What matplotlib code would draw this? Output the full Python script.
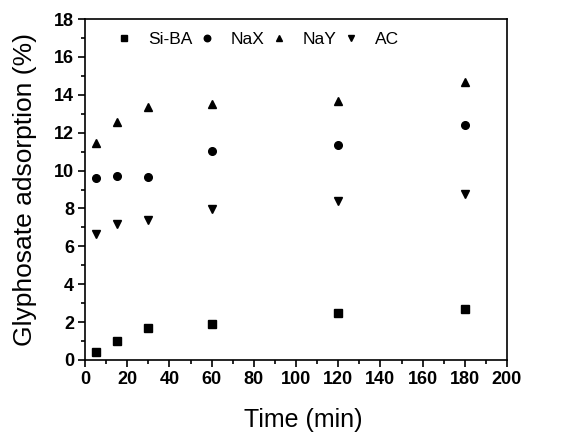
import matplotlib.pyplot as plt
from matplotlib.ticker import MultipleLocator

# ============================================
# Data
# ============================================
time_min = [5, 15, 30, 60, 120, 180]
si_ba = [0.42, 1.02, 1.67, 1.92, 2.50, 2.69]
nax = [9.59, 9.73, 9.68, 11.04, 11.35, 12.41]
nay = [11.44, 12.55, 13.34, 13.53, 13.69, 14.66]
ac = [6.63, 7.20, 7.39, 7.97, 8.40, 8.75]

series_names = ['Si-BA', 'NaX', 'NaY', 'AC']
series_markers = ['s', 'o', '^', 'v']

plt.rcParams['font.family'] = ['Liberation Sans', 'DejaVu Sans']

fig = plt.figure(figsize=(5.71, 4.32), dpi=100)
ax = fig.add_axes([85 / 571, 72 / 432, 422 / 571, 341 / 432])

for name, values, marker in zip(series_names, [si_ba, nax, nay, ac], series_markers):
    ax.plot(time_min, values, linestyle='none', marker=marker, color='black',
            markersize=5.5, label=name)

ax.set_xlim(0, 200)
ax.set_ylim(0, 18)
ax.xaxis.set_major_locator(MultipleLocator(20))
ax.xaxis.set_minor_locator(MultipleLocator(10))
ax.yaxis.set_major_locator(MultipleLocator(2))
ax.yaxis.set_minor_locator(MultipleLocator(1))
ax.tick_params(which='both', direction='out', top=False, right=False, width=1.2)
ax.tick_params(which='major', length=5, labelsize=13, pad=3)
ax.tick_params(which='minor', length=3)
for lbl in ax.get_xticklabels() + ax.get_yticklabels():
    lbl.set_fontweight('bold')
for spine in ax.spines.values():
    spine.set_linewidth(1.2)

ax.set_xlabel('Time (min)', fontsize=18, labelpad=14)
ax.xaxis.label.set_x(0.517)
ax.set_ylabel('Glyphosate adsorption (%)', fontsize=19, labelpad=12)

ax.legend(loc='upper left', bbox_to_anchor=(0.035, 1.008), ncol=4, frameon=False,
          fontsize=12.5, handletextpad=0.9, columnspacing=0.3, handlelength=1.0,
          markerscale=0.85)

plt.savefig('out.png', dpi=100)
plt.close()
